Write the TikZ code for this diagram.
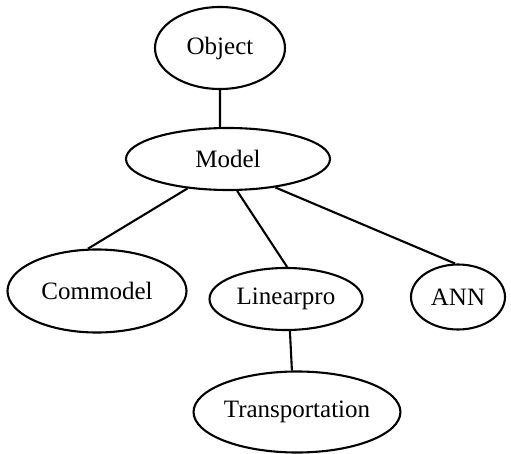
\documentclass[tikz,border=0pt]{standalone}
\usepackage{fontspec}
\setmainfont{Liberation Serif}
\usetikzlibrary{shapes.geometric}

\tikzset{
  cls/.style={draw, ellipse, line width=2.1pt, inner sep=0pt,
              font=\fontsize{25}{29}\selectfont},
  link/.style={line width=2.1pt}
}

\begin{document}
\begin{tikzpicture}[x=1pt, y=-1pt]
  \useasboundingbox (0,0) rectangle (511,454);

  % class hierarchy
  \node[cls, minimum width=130pt, minimum height=82pt] (object) at (220,48) {Object};
  \node[cls, minimum width=204pt, minimum height=62pt] (model) at (228,159) {Model};
  \node[cls, minimum width=179pt, minimum height=83pt] (commodel) at (97,291) {Commodel};
  \node[cls, minimum width=153pt, minimum height=62pt] (linearpro) at (286,299) {Linearpro};
  \node[cls, minimum width=94pt, minimum height=65pt] (ann) at (458,297) {ANN};
  \node[cls, minimum width=203pt, minimum height=81pt] (transport) at (297,412) {Transportation};

  % inheritance links
  \draw[link] (object.south) -- (model.104);
  \draw[link] (model.216) -- (commodel.102);
  \draw[link] (model.286) -- (linearpro.88);
  \draw[link] (model.329) -- (ann.95);
  \draw[link] (linearpro.277) -- (transport.97);
\end{tikzpicture}
\end{document}
